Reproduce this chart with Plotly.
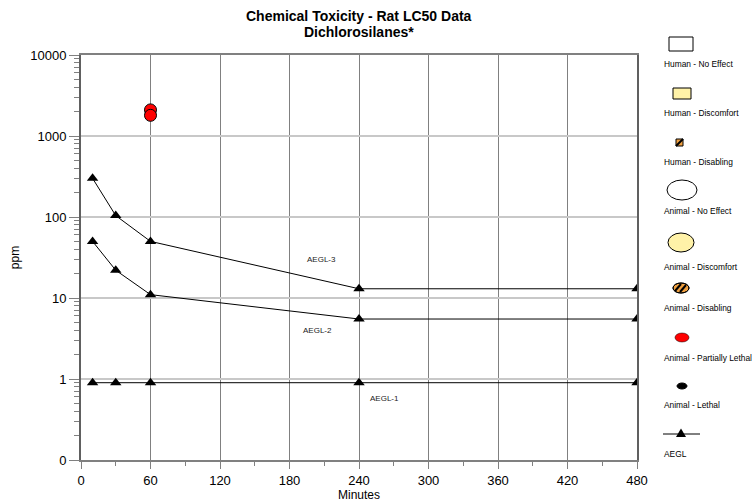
import math
import plotly.graph_objects as go

# ---- data ----
aegl_times = [10, 30, 60, 240, 480]
aegl1 = [0.9, 0.9, 0.9, 0.9, 0.9]
aegl2 = [50, 22, 11, 5.5, 5.5]
aegl3 = [300, 104, 50, 13, 13]
partial_lethal_times = [60, 60]
partial_lethal_ppm = [2100, 1800]

x_ticks = [0, 60, 120, 180, 240, 300, 360, 420, 480]
y_tickvals = [0.1, 1, 10, 100, 1000, 10000]
y_ticktext = ["0", "1", "10", "100", "1000", "10000"]

labels = [("AEGL-3", 208, 30), ("AEGL-2", 204, 4.0), ("AEGL-1", 262, 0.58)]

W, H = 754, 504
ML, MR, MT, MB = 81, 117, 55, 44
PW, PH = W - ML - MR, H - MT - MB

def px(x):
    return (x - ML) / PW

def py(y):
    return (H - MB - y) / PH

fig = go.Figure()

for ys in (aegl3, aegl2, aegl1):
    fig.add_trace(go.Scatter(
        x=aegl_times, y=ys, mode="lines+markers",
        line=dict(color="black", width=1),
        marker=dict(symbol="triangle-up", size=10, color="black"),
        showlegend=False, hoverinfo="x+y"))

fig.add_trace(go.Scatter(
    x=partial_lethal_times, y=partial_lethal_ppm, mode="markers",
    marker=dict(symbol="circle", size=12, color="#ff0000",
                line=dict(color="black", width=1)),
    showlegend=False))

annotations = []
for txt, lx, ly in labels:
    annotations.append(dict(x=lx, y=math.log10(ly), xref="x", yref="y",
                            text=txt, showarrow=False, bgcolor="white",
                            font=dict(family="Arial", size=8, color="#222")))

# title
annotations.append(dict(x=px(359), y=py(16), xref="paper", yref="paper",
                        text="<b>Chemical Toxicity - Rat LC50 Data</b>", showarrow=False,
                        xanchor="center", yanchor="middle",
                        font=dict(family="Arial", size=14, color="black")))
annotations.append(dict(x=px(359), y=py(32), xref="paper", yref="paper",
                        text="<b>Dichlorosilanes*</b>", showarrow=False,
                        xanchor="center", yanchor="middle",
                        font=dict(family="Arial", size=14, color="black")))

# ---- custom legend on right ----
shapes = []
def rect(x0, y0, x1, y1, fill, line="black", lw=1):
    shapes.append(dict(type="rect", xref="paper", yref="paper",
                       x0=px(x0), x1=px(x1), y0=py(y1), y1=py(y0),
                       fillcolor=fill, line=dict(color=line, width=lw)))

def ell(x0, y0, x1, y1, fill, line="black", lw=1):
    shapes.append(dict(type="circle", xref="paper", yref="paper",
                       x0=px(x0), x1=px(x1), y0=py(y1), y1=py(y0),
                       fillcolor=fill, line=dict(color=line, width=lw)))

def seg(x0, y0, x1, y1, color="black", lw=1):
    shapes.append(dict(type="line", xref="paper", yref="paper",
                       x0=px(x0), x1=px(x1), y0=py(y0), y1=py(y1),
                       line=dict(color=color, width=lw)))

def tri(cx, cy, s=5):
    path = "M {} {} L {} {} L {} {} Z".format(px(cx - s), py(cy + s*0.8),
                                               px(cx + s), py(cy + s*0.8),
                                               px(cx), py(cy - s*0.9))
    shapes.append(dict(type="path", xref="paper", yref="paper", path=path,
                       fillcolor="black", line=dict(color="black", width=0)))

rect(669, 37, 693, 51, "white")
rect(673, 88, 691, 99, "#fff2a8")
rect(676, 139, 683, 146, "#f0a040", line="#000", lw=1)
seg(676, 146, 683, 139, "black", 2)
ell(667, 180, 697, 200, "white")
ell(668, 233, 694, 252, "#fff2a8")
ell(673, 283, 689, 293, "#f0a040")
seg(675, 291, 681, 284, "black", 2)
seg(680, 292, 686, 285, "black", 2)
ell(673, 283, 689, 293, "rgba(0,0,0,0)")
ell(675, 333, 689, 342, "#ff0000", line="black", lw=0.5)
ell(677, 383, 687, 389, "black")
seg(663, 434, 700, 434, "black", 1)
tri(681, 433, 5)

leg_labels = [("Human - No Effect", 64), ("Human - Discomfort", 113),
              ("Human - Disabling", 162), ("Animal - No Effect", 211),
              ("Animal - Discomfort", 267), ("Animal - Disabling", 308),
              ("Animal - Partially Lethal", 358), ("Animal - Lethal", 405),
              ("AEGL", 454)]
for txt, yy in leg_labels:
    annotations.append(dict(x=px(662), y=py(yy), xref="paper", yref="paper",
                            text=txt, showarrow=False, xanchor="left", yanchor="middle",
                            font=dict(family="Arial", size=8.4, color="black")))

minor_y = [m * 10**e for e in range(-1, 4) for m in range(2, 10)]

fig.update_layout(
    width=W, height=H,
    margin=dict(l=ML, r=MR, t=MT, b=MB, autoexpand=False),
    paper_bgcolor="white", plot_bgcolor="white",
    font=dict(family="Arial", color="black"),
    shapes=shapes, annotations=annotations,
    showlegend=False,
)
fig.update_xaxes(
    range=[0, 480], tickvals=x_ticks, ticks="outside", ticklen=7, tickcolor="#808080",
    showgrid=True, gridcolor="#808080", gridwidth=1,
    showline=True, linecolor="#808080", linewidth=2, mirror=True,
    zeroline=False, tickfont=dict(family="Arial", size=13), automargin=False,
    minor=dict(tickvals=list(range(30, 480, 60)), ticks="outside", ticklen=4,
               tickcolor="#808080", showgrid=False),
    title=dict(text="Minutes", font=dict(family="Arial", size=12), standoff=2),
)
fig.update_yaxes(
    type="log", range=[-1, 4], tickvals=y_tickvals, ticktext=y_ticktext,
    ticks="outside", ticklen=10, tickcolor="#808080",
    showgrid=True, gridcolor="#c8c8c8", gridwidth=2,
    showline=True, linecolor="#606060", linewidth=2, mirror=True,
    zeroline=False, tickfont=dict(family="Arial", size=13), automargin=False,
    minor=dict(tickvals=minor_y, ticks="outside", ticklen=5, tickcolor="#808080",
               showgrid=False),
    title=dict(text="ppm", font=dict(family="Arial", size=12), standoff=8),
)

fig.write_html("out.html", config={"displayModeBar": False},
               post_script="document.body.style.margin='0';")
